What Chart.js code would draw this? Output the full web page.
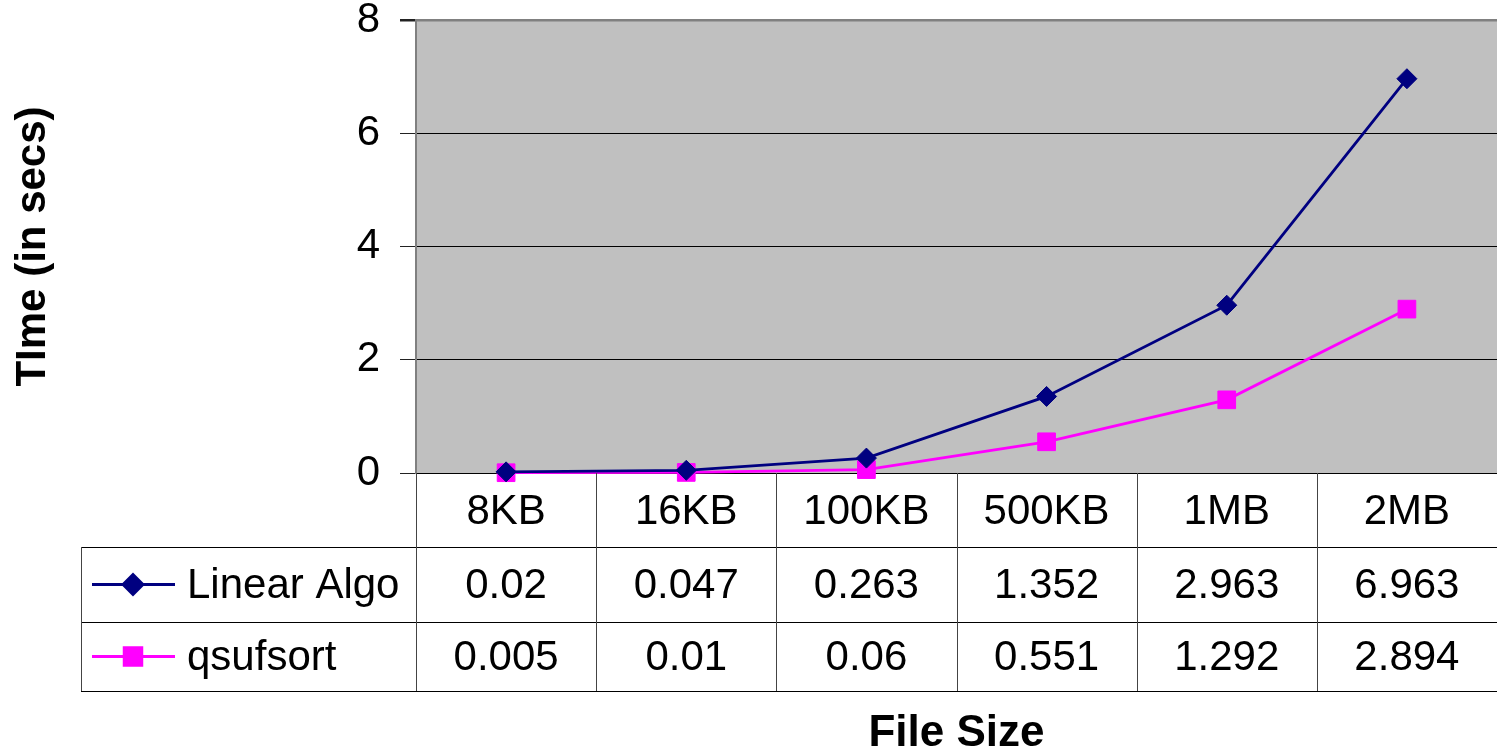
<!DOCTYPE html>
<html>
<head>
<meta charset="utf-8">
<style>
  html, body { margin: 0; padding: 0; background: #fff; }
  #wrap { width: 1497px; height: 755px; }
</style>
<script src="https://cdn.jsdelivr.net/npm/chart.js@4/dist/chart.umd.min.js"></script>
</head>
<body>
<div id="wrap"><canvas id="timeChart" width="1497" height="755"></canvas></div>
<script>
const fileSizes = ['8KB', '16KB', '100KB', '500KB', '1MB', '2MB'];
const linearAlgo = [0.02, 0.047, 0.263, 1.352, 2.963, 6.963];
const qsufsort = [0.005, 0.01, 0.06, 0.551, 1.292, 2.894];
const yTicks = [0, 2, 4, 6, 8];

const FONT = '"Liberation Sans", Arial, sans-serif';

// grey plot background
const plotBg = {
  id: 'plotBg',
  beforeDraw(chart) {
    const { ctx, chartArea: a } = chart;
    ctx.save();
    ctx.fillStyle = '#C0C0C0';
    ctx.fillRect(a.left, a.top, a.right - a.left, a.bottom - a.top);
    ctx.restore();
  }
};

// data table under the plot + x title
const dataTable = {
  id: 'dataTable',
  afterDraw(chart) {
    const { ctx, chartArea: a } = chart;
    const x = chart.scales.x;
    const n = fileSizes.length;
    const colW = (a.right - a.left) / n;
    const legendLeft = 81;
    const row0 = a.bottom, row1 = a.bottom + 74, row2 = row1 + 75, row3 = row2 + 69;

    ctx.save();
    ctx.lineWidth = 1;
    ctx.strokeStyle = '#000';
    [row1, row2, row3].forEach(y => {
      ctx.beginPath();
      ctx.moveTo(legendLeft, y + 0.5);
      ctx.lineTo(a.right, y + 0.5);
      ctx.stroke();
    });
    ctx.strokeStyle = '#444';
    for (let k = 0; k < n; k++) {
      const vx = Math.round(a.left + k * colW) + 0.5;
      ctx.beginPath();
      ctx.moveTo(vx, row0);
      ctx.lineTo(vx, row3);
      ctx.stroke();
    }
    ctx.beginPath();
    ctx.moveTo(legendLeft + 0.5, row1);
    ctx.lineTo(legendLeft + 0.5, row3);
    ctx.stroke();

    ctx.fillStyle = '#000';
    ctx.font = '42px ' + FONT;
    ctx.textAlign = 'center';
    ctx.textBaseline = 'middle';
    fileSizes.forEach((lbl, i) => {
      const cx = x.getPixelForValue(i);
      ctx.fillText(lbl, cx, (row0 + row1) / 2 + 2);
      ctx.fillText(String(linearAlgo[i]), cx, (row1 + row2) / 2 + 2);
      ctx.fillText(String(qsufsort[i]), cx, (row2 + row3) / 2 + 2);
    });

    // legend keys
    const rows = [(row1 + row2) / 2, (row2 + row3) / 2];
    chart.data.datasets.forEach((ds, i) => {
      const y = rows[i];
      ctx.strokeStyle = ds.borderColor;
      ctx.lineWidth = ds.borderWidth;
      ctx.beginPath();
      ctx.moveTo(92, y);
      ctx.lineTo(175, y);
      ctx.stroke();
      ctx.fillStyle = ds.pointBackgroundColor;
      ctx.strokeStyle = ds.pointBorderColor;
      Chart.helpers.drawPoint(ctx, {
        pointStyle: ds.pointStyle, radius: ds.pointRadius, rotation: 0, borderWidth: 1
      }, 133, y);
      ctx.fillStyle = '#000';
      ctx.textAlign = 'left';
      ctx.fillText(ds.label, 187, y + 2);
    });

    ctx.font = 'bold 44px ' + FONT;
    ctx.textAlign = 'center';
    ctx.fillText('File Size', (a.left + a.right) / 2, 734);
    ctx.restore();
  }
};

new Chart(document.getElementById('timeChart'), {
  type: 'line',
  data: {
    labels: fileSizes,
    datasets: [{
      label: 'Linear Algo',
      data: linearAlgo,
      borderColor: '#000080',
      backgroundColor: '#000080',
      pointBackgroundColor: '#000080',
      pointBorderColor: '#000080',
      borderWidth: 2.8,
      pointStyle: 'rectRot',
      pointRadius: 10,
      pointBorderWidth: 1,
      tension: 0,
      clip: false
    }, {
      label: 'qsufsort',
      data: qsufsort,
      borderColor: '#FF00FF',
      backgroundColor: '#FF00FF',
      pointBackgroundColor: '#FF00FF',
      pointBorderColor: '#FF00FF',
      borderWidth: 2.8,
      pointStyle: 'rect',
      pointRadius: 12.5,
      pointBorderWidth: 1,
      tension: 0,
      clip: false
    }]
  },
  options: {
    responsive: false,
    animation: false,
    layout: { autoPadding: false, padding: { top: 0, bottom: 282, left: 0, right: 0 } },
    plugins: {
      legend: { display: false },
      tooltip: { enabled: false }
    },
    scales: {
      x: { display: false, offset: true },
      y: {
        min: 0,
        max: 8,
        afterBuildTicks: scale => { scale.ticks = yTicks.map(v => ({ value: v })); },
        afterFit: scale => {
          scale.width = 416;
          scale.paddingTop = 20;
          scale.paddingBottom = 0;
        },
        ticks: {
          font: { size: 42, family: FONT, lineHeight: 1 },
          color: '#000',
          padding: 20
        },
        grid: {
          color: c => (c.tick && c.tick.value === 8 ? '#808080' : '#000'),
          lineWidth: c => (c.tick && c.tick.value === 8 ? 2.5 : 1),
          tickColor: '#222',
          tickLength: 16
        },
        border: { color: '#808080', width: 2 },
        title: {
          display: true,
          text: 'TIme (in secs)',
          color: '#000',
          font: { size: 42, weight: 'bold', family: FONT },
          padding: { top: 8, bottom: 0 }
        }
      }
    }
  },
  plugins: [plotBg, dataTable]
});
</script>
</body>
</html>
